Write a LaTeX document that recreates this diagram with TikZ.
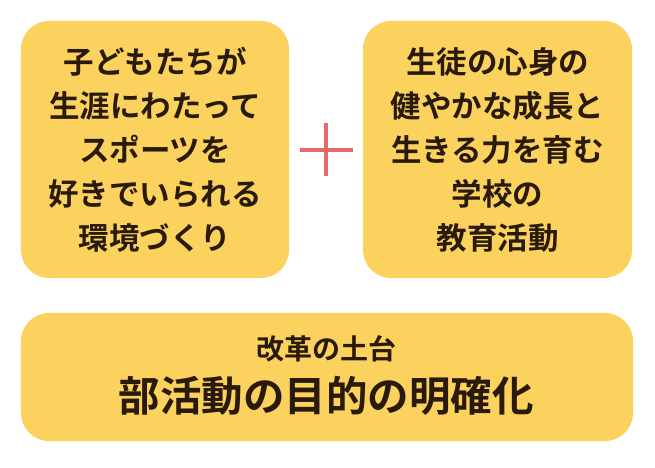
\documentclass[tikz,border=0pt]{standalone}
\usepackage{fontspec}
\newfontfamily\jpfont{Noto Sans CJK JP Bold}
\definecolor{boxfill}{HTML}{FCD25E}
\definecolor{ink}{HTML}{2A1A0B}
\definecolor{plusred}{HTML}{E66A6A}

\tikzstyle{block} = [fill = boxfill, text = ink, rounded corners = 28bp, inner sep = 0pt, align = center, font = \jpfont\fontsize{30.5bp}{44bp}\selectfont]
\tikzstyle{label} = [text = ink, inner sep = 0pt, align = center]

\begin{document}
\begin{tikzpicture}[x = 1bp, y = -1bp]
		\useasboundingbox (0, 0) rectangle (655, 468);
		\node [block, minimum width = 268bp, minimum height = 257bp] at (155, 149.5) (1) {子どもたちが\\生涯にわたって\\スポーツを\\好きでいられる\\環境づくり};
		\node [block, minimum width = 269bp, minimum height = 257bp] at (497.5, 149.5) (2) {生徒の心身の\\健やかな成長と\\生きる力を育む\\学校の\\教育活動};
		\node [block, minimum width = 612bp, minimum height = 128bp] at (327, 377) (3) {};
		\node [label, font = \jpfont\fontsize{28bp}{32bp}\selectfont] at (326, 349) (4) {改革の土台};
		\node [label, font = \jpfont\fontsize{41.5bp}{46bp}\selectfont] at (326, 396) (5) {部活動の目的の明確化};
		\coordinate (6) at (326, 150);

  		\draw [plusred, line width = 4bp] ([xshift = -26.5bp] 6) -- ([xshift = 26.5bp] 6);
  		\draw [plusred, line width = 4bp] ([yshift = -26.5bp] 6) -- ([yshift = 26.5bp] 6);
	\end{tikzpicture}
\end{document}
